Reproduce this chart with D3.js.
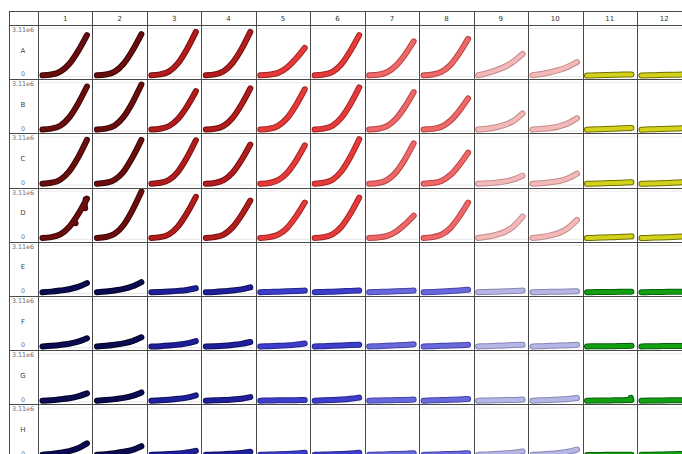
<!DOCTYPE html>
<html>
<head>
<meta charset="utf-8">
<script src="https://cdn.jsdelivr.net/npm/d3@7"></script>
<style>
  html, body { margin: 0; padding: 0; background: #fff; overflow: hidden; }
  svg { display: block; }
  text { font-family: "DejaVu Sans", sans-serif; }
</style>
</head>
<body>
<div id="chart"></div>
<script>
// plate layout
const colLabels = ["1", "2", "3", "4", "5", "6", "7", "8", "9", "10", "11", "12"];
const rowLabels = ["A", "B", "C", "D", "E", "F", "G", "H"];
const yTickLabels = ["3.11e6", "0"];
const yMax = 3.11; // millions

// sampling times (h)
const times = [0, 5, 10, 15, 20, 25];

// readings per well, in millions
const rowA = [
  [0.06, 0.11, 0.30, 0.80, 1.65, 2.71], [0.06, 0.11, 0.30, 0.82, 1.69, 2.77],
  [0.06, 0.12, 0.32, 0.86, 1.78, 2.92], [0.06, 0.12, 0.33, 0.87, 1.77, 2.92],
  [0.06, 0.10, 0.22, 0.57, 1.15, 1.87], [0.06, 0.11, 0.29, 0.79, 1.66, 2.71],
  [0.06, 0.10, 0.26, 0.69, 1.40, 2.30], [0.06, 0.11, 0.28, 0.73, 1.50, 2.46],
  [0.06, 0.20, 0.38, 0.62, 0.97, 1.46], [0.06, 0.15, 0.26, 0.41, 0.63, 0.93],
  [0.04, 0.06, 0.08, 0.09, 0.11, 0.12], [0.05, 0.06, 0.08, 0.09, 0.10, 0.12]
];
const rowB = [
  [0.06, 0.12, 0.31, 0.85, 1.76, 2.89], [0.06, 0.12, 0.33, 0.89, 1.84, 3.02],
  [0.06, 0.11, 0.29, 0.77, 1.57, 2.58], [0.06, 0.11, 0.30, 0.82, 1.69, 2.77],
  [0.06, 0.11, 0.30, 0.80, 1.65, 2.71], [0.06, 0.12, 0.31, 0.84, 1.72, 2.83],
  [0.06, 0.11, 0.28, 0.75, 1.54, 2.52], [0.06, 0.10, 0.24, 0.63, 1.29, 2.11],
  [0.06, 0.11, 0.21, 0.36, 0.64, 1.12], [0.06, 0.10, 0.16, 0.27, 0.47, 0.81],
  [0.05, 0.07, 0.09, 0.11, 0.14, 0.16], [0.05, 0.07, 0.09, 0.11, 0.13, 0.16]
];
const rowC = [
  [0.06, 0.12, 0.32, 0.87, 1.79, 2.95], [0.06, 0.12, 0.32, 0.86, 1.80, 2.95],
  [0.06, 0.12, 0.32, 0.86, 1.78, 2.92], [0.06, 0.11, 0.29, 0.78, 1.61, 2.64],
  [0.06, 0.11, 0.29, 0.77, 1.57, 2.58], [0.06, 0.12, 0.32, 0.88, 1.82, 2.99],
  [0.06, 0.11, 0.30, 0.80, 1.65, 2.71], [0.06, 0.10, 0.24, 0.63, 1.29, 2.11],
  [0.06, 0.09, 0.13, 0.21, 0.35, 0.59], [0.06, 0.09, 0.15, 0.24, 0.42, 0.72],
  [0.05, 0.07, 0.09, 0.11, 0.13, 0.16], [0.05, 0.07, 0.09, 0.11, 0.14, 0.16]
];
const rowD = [
  [0.06, 0.11, 0.29, 0.78, 1.61, 2.64], [0.06, 0.12, 0.33, 0.91, 1.89, 3.11],
  [0.06, 0.11, 0.30, 0.82, 1.69, 2.77], [0.06, 0.11, 0.28, 0.75, 1.54, 2.52],
  [0.06, 0.11, 0.27, 0.71, 1.46, 2.39], [0.06, 0.11, 0.30, 0.80, 1.65, 2.71],
  [0.06, 0.09, 0.19, 0.47, 0.94, 1.52], [0.06, 0.11, 0.27, 0.71, 1.46, 2.39],
  [0.06, 0.13, 0.26, 0.45, 0.83, 1.46], [0.06, 0.12, 0.23, 0.39, 0.71, 1.24],
  [0.05, 0.07, 0.09, 0.11, 0.13, 0.16], [0.05, 0.07, 0.09, 0.11, 0.14, 0.16]
];
const rowE = [
  [0.05, 0.09, 0.16, 0.25, 0.40, 0.65], [0.05, 0.10, 0.17, 0.27, 0.44, 0.72],
  [0.05, 0.07, 0.10, 0.14, 0.20, 0.31], [0.05, 0.07, 0.11, 0.16, 0.24, 0.37],
  [0.05, 0.07, 0.09, 0.11, 0.13, 0.16], [0.05, 0.07, 0.09, 0.11, 0.14, 0.16],
  [0.05, 0.07, 0.09, 0.11, 0.13, 0.16], [0.05, 0.07, 0.10, 0.13, 0.17, 0.22],
  [0.05, 0.07, 0.09, 0.11, 0.13, 0.16], [0.05, 0.06, 0.08, 0.09, 0.10, 0.12],
  [0.05, 0.06, 0.07, 0.07, 0.08, 0.09], [0.05, 0.06, 0.07, 0.08, 0.08, 0.09]
];
const rowF = [
  [0.05, 0.09, 0.15, 0.23, 0.36, 0.59], [0.05, 0.09, 0.16, 0.25, 0.40, 0.65],
  [0.05, 0.07, 0.11, 0.17, 0.25, 0.40], [0.05, 0.07, 0.10, 0.15, 0.22, 0.34],
  [0.05, 0.07, 0.09, 0.12, 0.17, 0.25], [0.05, 0.07, 0.09, 0.11, 0.14, 0.16],
  [0.05, 0.07, 0.09, 0.12, 0.15, 0.19], [0.05, 0.07, 0.09, 0.11, 0.13, 0.16],
  [0.05, 0.07, 0.09, 0.11, 0.14, 0.16], [0.05, 0.07, 0.09, 0.11, 0.13, 0.16],
  [0.05, 0.06, 0.07, 0.07, 0.08, 0.09], [0.05, 0.06, 0.07, 0.08, 0.08, 0.09]
];
const rowG = [
  [0.05, 0.08, 0.14, 0.21, 0.33, 0.53], [0.05, 0.09, 0.15, 0.23, 0.36, 0.59],
  [0.05, 0.07, 0.11, 0.17, 0.25, 0.40], [0.05, 0.07, 0.09, 0.13, 0.18, 0.28],
  [0.05, 0.06, 0.07, 0.07, 0.08, 0.09], [0.05, 0.07, 0.09, 0.12, 0.17, 0.25],
  [0.05, 0.06, 0.07, 0.09, 0.10, 0.12], [0.05, 0.07, 0.09, 0.11, 0.13, 0.16],
  [0.05, 0.06, 0.07, 0.09, 0.10, 0.12], [0.05, 0.07, 0.09, 0.12, 0.16, 0.22],
  [0.05, 0.06, 0.06, 0.07, 0.08, 0.09], [0.05, 0.06, 0.06, 0.07, 0.07, 0.08]
];
const rowH = [
  [0.05, 0.10, 0.19, 0.30, 0.49, 0.81], [0.05, 0.09, 0.16, 0.25, 0.38, 0.62],
  [0.05, 0.07, 0.10, 0.14, 0.20, 0.31], [0.05, 0.07, 0.09, 0.13, 0.17, 0.25],
  [0.05, 0.07, 0.09, 0.11, 0.14, 0.19], [0.05, 0.07, 0.09, 0.11, 0.14, 0.19],
  [0.05, 0.07, 0.09, 0.11, 0.13, 0.16], [0.05, 0.07, 0.09, 0.11, 0.13, 0.16],
  [0.05, 0.07, 0.10, 0.14, 0.19, 0.28], [0.05, 0.08, 0.12, 0.18, 0.26, 0.40],
  [0.04, 0.04, 0.05, 0.05, 0.06, 0.06], [0.05, 0.06, 0.07, 0.09, 0.10, 0.12]
];
const plate = [rowA, rowB, rowC, rowD, rowE, rowF, rowG, rowH];

// odd readings
const strays = [
  { row: "D", col: "1", t: 24.3, v: 2.60 },
  { row: "D", col: "1", t: 23.8, v: 2.22 },
  { row: "D", col: "1", t: 24.0, v: 2.02 },
  { row: "D", col: "1", t: 18.6, v: 1.02 },
  { row: "G", col: "11", t: 24.6, v: 0.24 }
];

// colour per column pair: [fill, outline]
const redShades = [["#6b0d0d", "#3a0606"], ["#b41c1c", "#701010"], ["#e43a3a", "#a82222"],
                   ["#ee6868", "#b84444"], ["#f3b8b8", "#c48a8a"], ["#d2d21c", "#707000"]];
const blueShades = [["#0b0b52", "#020228"], ["#1f1f9c", "#10105c"], ["#3e3ecc", "#262690"],
                    ["#6868dc", "#4444a8"], ["#b6b6e6", "#8686b6"], ["#12a012", "#0a600a"]];

const width = 682, height = 454;
const tableLeft = 9, tableTop = 11, labelW = 29, headerH = 14;
const cellW = 54.45, cellH = 54.2;

const svg = d3.select("#chart").append("svg")
  .attr("width", width)
  .attr("height", height);

const x = d3.scaleBand()
  .domain(colLabels)
  .range([tableLeft + labelW, tableLeft + labelW + cellW * colLabels.length]);

const y = d3.scaleBand()
  .domain(rowLabels)
  .range([tableTop + headerH, tableTop + headerH + cellH * rowLabels.length]);

const gridColor = "#4a4a4a";

// header labels
svg.append("g").selectAll("text")
  .data(colLabels)
  .join("text")
  .attr("x", d => x(d) + x.bandwidth() / 2)
  .attr("y", tableTop + headerH / 2 + 2.5)
  .attr("text-anchor", "middle")
  .attr("font-size", 7)
  .attr("fill", "#333")
  .text(d => d);

// row label column
const rowLab = svg.append("g").selectAll("g")
  .data(rowLabels)
  .join("g")
  .attr("transform", d => `translate(${tableLeft},${y(d)})`);

rowLab.append("text")
  .attr("x", labelW / 2 - 0.5)
  .attr("y", 7)
  .attr("text-anchor", "middle")
  .attr("font-size", 6.4)
  .attr("fill", "#707070")
  .text(yTickLabels[0]);

rowLab.append("text")
  .attr("x", labelW / 2 - 0.5)
  .attr("y", cellH - 2.8)
  .attr("text-anchor", "middle")
  .attr("font-size", 6.4)
  .attr("fill", "#707070")
  .text(yTickLabels[1]);

rowLab.append("text")
  .attr("x", labelW / 2 - 0.5)
  .attr("y", cellH / 2 + 0.5)
  .attr("text-anchor", "middle")
  .attr("font-size", 7)
  .attr("fill", "#444")
  .text(d => d);

// wells
const wells = [];
plate.forEach((row, ri) => {
  row.forEach((vals, ci) => {
    wells.push({ row: rowLabels[ri], col: colLabels[ci], values: vals });
  });
});

function wellScales(w) {
  const left = x(w.col), top = y(w.row);
  const sx = d3.scaleLinear().domain([times[0], times[times.length - 1]])
    .range([left + 4.5, left + x.bandwidth() - 5.5]);
  const sy = d3.scaleLinear().domain([0, yMax])
    .range([top + y.bandwidth() - 3, top + 4]);
  return { sx, sy };
}

function shade(w) {
  const ri = rowLabels.indexOf(w.row), ci = colLabels.indexOf(w.col);
  const pal = ri < 4 ? redShades : blueShades;
  return pal[Math.floor(ci / 2)];
}

const frame = svg.append("g");
frame.selectAll("line.top")
  .data(wells)
  .join("line")
  .attr("class", "top")
  .attr("x1", d => x(d.col) + 1).attr("x2", d => x(d.col) + x.bandwidth() - 1)
  .attr("y1", d => y(d.row) + 3.5).attr("y2", d => y(d.row) + 3.5)
  .attr("stroke", "#ececec");
frame.selectAll("line.base")
  .data(wells)
  .join("line")
  .attr("class", "base")
  .attr("x1", d => x(d.col) + 1).attr("x2", d => x(d.col) + x.bandwidth() - 1)
  .attr("y1", d => y(d.row) + y.bandwidth() - 2.5).attr("y2", d => y(d.row) + y.bandwidth() - 2.5)
  .attr("stroke", "#e6e6e6");

const curves = svg.append("g");
wells.forEach(w => {
  const { sx, sy } = wellScales(w);
  const [fill, outline] = shade(w);
  const line = d3.line()
    .x((d, i) => sx(times[i]))
    .y(d => sy(d))
    .curve(d3.curveMonotoneX);
  const g = curves.append("g");
  const myStrays = strays.filter(s => s.row === w.row && s.col === w.col);
  g.append("path")
    .attr("d", line(w.values))
    .attr("fill", "none")
    .attr("stroke", outline)
    .attr("stroke-width", 6)
    .attr("stroke-linecap", "round")
    .attr("stroke-linejoin", "round");
  g.selectAll("circle.o")
    .data(myStrays)
    .join("circle")
    .attr("class", "o")
    .attr("cx", d => sx(d.t)).attr("cy", d => sy(d.v))
    .attr("r", 3).attr("fill", outline);
  g.append("path")
    .attr("d", line(w.values))
    .attr("fill", "none")
    .attr("stroke", fill)
    .attr("stroke-width", 4)
    .attr("stroke-linecap", "round")
    .attr("stroke-linejoin", "round");
  g.selectAll("circle.f")
    .data(myStrays)
    .join("circle")
    .attr("class", "f")
    .attr("cx", d => sx(d.t)).attr("cy", d => sy(d.v))
    .attr("r", 2).attr("fill", fill);
});

// grid lines
const grid = svg.append("g")
  .attr("stroke", gridColor)
  .attr("stroke-width", 1)
  .attr("shape-rendering", "crispEdges");

const xEdges = [tableLeft, ...colLabels.map(c => x(c)), x.range()[1]];
const yEdges = [tableTop, ...rowLabels.map(r => y(r)), y.range()[1]];

grid.selectAll("line.v")
  .data(xEdges)
  .join("line")
  .attr("class", "v")
  .attr("x1", d => Math.round(d) + 0.5).attr("x2", d => Math.round(d) + 0.5)
  .attr("y1", tableTop).attr("y2", y.range()[1]);

grid.selectAll("line.h")
  .data(yEdges)
  .join("line")
  .attr("class", "h")
  .attr("x1", tableLeft).attr("x2", x.range()[1])
  .attr("y1", d => Math.round(d) + 0.5).attr("y2", d => Math.round(d) + 0.5);
</script>
</body>
</html>
